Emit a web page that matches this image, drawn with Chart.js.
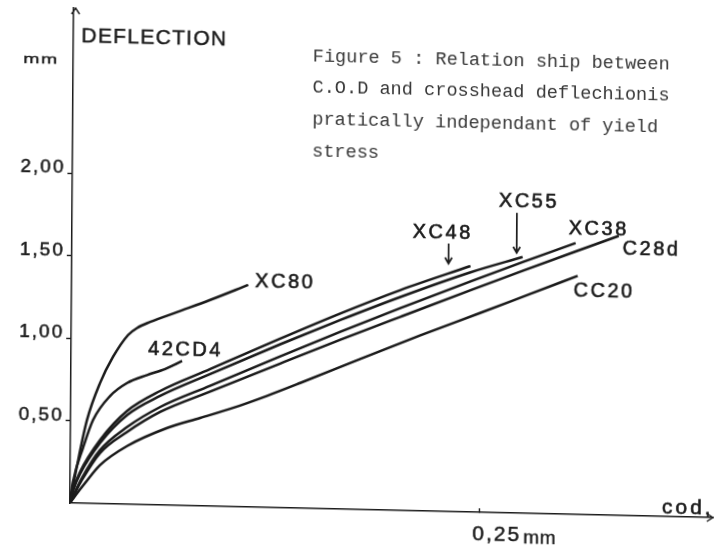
<!DOCTYPE html>
<html>
<head>
<meta charset="utf-8">
<script src="https://cdn.jsdelivr.net/npm/chart.js@4"></script>
<style>
  html, body { margin: 0; padding: 0; background: #fff; overflow: hidden; }
  #wrap { width: 716px; height: 547px; position: relative; }
  /* the printed sheet sits slightly askew */
  #c { display: block; transform-origin: 70px 503px;
       transform: matrix(0.99974, 0.02269, -0.00733, 0.99997, 0, 0); }
</style>
</head>
<body>
<div id="wrap"><canvas id="c" width="716" height="547"></canvas></div>
<script>
// COD (mm) against crosshead deflection (mm), one curve per steel grade
const seriesNames = ['XC80', '42CD4', 'XC48', 'XC55', 'XC38', 'C28d', 'CC20'];

const XC80 = [[0,0],[0.0041,0.225],[0.0100,0.505],[0.0178,0.731],[0.0256,0.891],[0.0347,1.026],[0.0402,1.070],[0.0481,1.108],[0.0646,1.172],[0.0847,1.250],[0.1078,1.346]];
const CD42 = [[0,0],[0.0017,0.128],[0.0077,0.335],[0.0137,0.506],[0.0240,0.654],[0.0343,0.735],[0.0465,0.786],[0.0575,0.825],[0.0678,0.876]];
const XC48 = [[0,0],[0.0018,0.079],[0.0060,0.189],[0.0181,0.386],[0.0344,0.565],[0.0545,0.691],[0.0850,0.831],[0.1276,1.025],[0.1642,1.186],[0.2008,1.336],[0.2434,1.491]];
const XC55 = [[0,0],[0.0018,0.073],[0.0060,0.177],[0.0181,0.368],[0.0345,0.541],[0.0545,0.661],[0.0850,0.801],[0.1277,0.991],[0.1642,1.146],[0.2008,1.294],[0.2435,1.453],[0.2752,1.553]];
const XC38 = [[0,0],[0.0030,0.067],[0.0072,0.153],[0.0181,0.325],[0.0345,0.468],[0.0546,0.594],[0.0850,0.730],[0.1277,0.918],[0.1643,1.075],[0.2008,1.227],[0.2435,1.398],[0.2752,1.522],[0.3075,1.645]];
const C28d = [[0,0],[0.0030,0.061],[0.0072,0.141],[0.0181,0.307],[0.0345,0.438],[0.0546,0.564],[0.0851,0.695],[0.1277,0.874],[0.1643,1.026],[0.2009,1.174],[0.2436,1.345],[0.2752,1.469],[0.3076,1.594],[0.3338,1.694]];
const CC20 = [[0,0],[0.0030,0.043],[0.0091,0.123],[0.0182,0.234],[0.0346,0.353],[0.0590,0.468],[0.0791,0.533],[0.0992,0.599],[0.1199,0.677],[0.1400,0.759],[0.1766,0.913],[0.2132,1.064],[0.2498,1.209],[0.2802,1.331],[0.3089,1.446]];

const seriesData = [XC80, CD42, XC48, XC55, XC38, C28d, CC20];

const yTickValues = [0.5, 1.0, 1.5, 2.0];
const yTickLabels = ['0,50', '1,00', '1,50', '2,00'];
const xTickValues = [0.25];
const xTickLabels = ['0,25'];

const captionLines = [
  'Figure 5 : Relation ship between',
  'C.O.D and crosshead deflechionis',
  'pratically independant of yield',
  'stress'
];

const INK = '#1b1b1b';
const SANS = '"Liberation Sans", Arial, sans-serif';

// where each grade name sits relative to the end of its curve
const labelOffsets = {
  'XC80': [7, 2], '42CD4': [-34, -5], 'XC48': [-58, -27], 'XC55': [-24, -50],
  'XC38': [-7, -9], 'C28d': [4, 19], 'CC20': [-4, 21]
};
// short downward pointers: [dx, yStart, yEnd] from the curve end
const pointers = { 'XC48': [-22, -22, -2], 'XC55': [-6, -44, -4] };

function spacedText(ctx, text, x, y, font, spacing, opts) {
  opts = opts || {};
  ctx.save();
  ctx.translate(x, y);
  if (opts.stretch) ctx.scale(opts.stretch, 1);
  ctx.font = font;
  ctx.letterSpacing = spacing + 'px';
  ctx.fillStyle = opts.color || INK;
  ctx.textAlign = 'left';
  ctx.textBaseline = 'alphabetic';
  ctx.fillText(text, 0, 0);
  if (opts.stroke) {
    ctx.strokeStyle = opts.color || INK;
    ctx.lineWidth = opts.stroke;
    ctx.strokeText(text, 0, 0);
  }
  ctx.restore();
}

const decorations = {
  id: 'decorations',
  beforeDraw(chart) { chart.ctx.letterSpacing = '2px'; },
  afterDraw(chart) {
    const ctx = chart.ctx;
    ctx.letterSpacing = '0px';
    const area = chart.chartArea;
    const xs = chart.scales.x;

    // curve names and pointers
    chart.data.datasets.forEach((ds, i) => {
      const pts = chart.getDatasetMeta(i).data;
      const end = pts[pts.length - 1];
      const off = labelOffsets[ds.label];
      spacedText(ctx, ds.label, end.x + off[0], end.y + off[1], '20px ' + SANS, 2.5, { stroke: 0.6 });
      const p = pointers[ds.label];
      if (p) {
        const px = end.x + p[0];
        ctx.save();
        ctx.strokeStyle = INK; ctx.lineWidth = 1.7;
        ctx.beginPath();
        ctx.moveTo(px, end.y + p[1]); ctx.lineTo(px, end.y + p[2]);
        ctx.moveTo(px - 3.5, end.y + p[2] - 6); ctx.lineTo(px, end.y + p[2]); ctx.lineTo(px + 3.5, end.y + p[2] - 6);
        ctx.stroke();
        ctx.restore();
      }
    });

    // axis arrow heads
    ctx.save();
    ctx.strokeStyle = INK; ctx.lineWidth = 1.4;
    ctx.beginPath();
    ctx.moveTo(area.left - 2, area.top + 6); ctx.lineTo(area.left + 2, area.top); ctx.lineTo(area.left + 6, area.top + 6);
    ctx.moveTo(area.right - 6, area.bottom - 4); ctx.lineTo(area.right, area.bottom); ctx.lineTo(area.right - 6, area.bottom + 4);
    ctx.stroke();
    ctx.restore();

    // axis titles and units
    spacedText(ctx, 'DEFLECTION', area.left + 8, area.top + 34, '21px ' + SANS, 1.3, { stroke: 0.5 });
    spacedText(ctx, 'mm', 20, area.top + 56, '13px ' + SANS, 1, { stretch: 1.5, stroke: 0.4 });
    spacedText(ctx, 'cod,', area.right - 51, area.bottom - 3, '21px ' + SANS, 3, { stroke: 0.6 });
    spacedText(ctx, 'mm', xs.getPixelForValue(xTickValues[0]) + 44, 533, '19px ' + SANS, 0.5, { stroke: 0.4 });

    // caption
    captionLines.forEach((line, i) => {
      spacedText(ctx, line, 309.5, 55.5 + i * 31.7, '18.6px "Liberation Mono", monospace', 0, { color: '#383838' });
    });
  }
};

new Chart(document.getElementById('c'), {
  type: 'line',
  data: {
    datasets: seriesNames.map((name, i) => ({
      label: name,
      data: seriesData[i].map(p => ({ x: p[0], y: p[1] })),
      borderColor: INK,
      borderWidth: 2.5,
      pointRadius: 0,
      fill: false,
      cubicInterpolationMode: 'monotone'
    }))
  },
  options: {
    responsive: false,
    animation: false,
    devicePixelRatio: 1,
    layout: { padding: { left: 0, top: 8, right: 3, bottom: 0 } },
    plugins: { legend: { display: false }, tooltip: { enabled: false } },
    scales: {
      x: {
        type: 'linear', min: 0, max: 0.3925,
        afterFit(s) { s.height = 44; s.paddingLeft = 0; s.paddingRight = 0; },
        afterBuildTicks(s) { s.ticks = xTickValues.map(v => ({ value: v })); },
        grid: { drawOnChartArea: false, drawTicks: true, tickLength: -4, color: INK, tickWidth: 1.4 },
        border: { display: true, color: INK, width: 1.5 },
        ticks: {
          align: 'start', labelOffset: -7, padding: 14, color: INK,
          textStrokeColor: INK, textStrokeWidth: 0.5,
          font: { family: SANS, size: 21 },
          callback: (v, i) => xTickLabels[i]
        }
      },
      y: {
        type: 'linear', min: 0, max: 3.0,
        afterFit(s) { s.width = 70; s.paddingTop = 0; s.paddingBottom = 0; },
        afterBuildTicks(s) { s.ticks = yTickValues.map(v => ({ value: v })); },
        grid: { drawOnChartArea: false, drawTicks: true, tickLength: 5, color: INK, tickWidth: 1.4 },
        border: { display: true, color: INK, width: 1.5 },
        ticks: {
          padding: 2, labelOffset: -5, color: INK,
          textStrokeColor: INK, textStrokeWidth: 0.5,
          font: { family: SANS, size: 19 },
          callback: (v, i) => yTickLabels[i]
        }
      }
    }
  },
  plugins: [decorations]
});
</script>
</body>
</html>
